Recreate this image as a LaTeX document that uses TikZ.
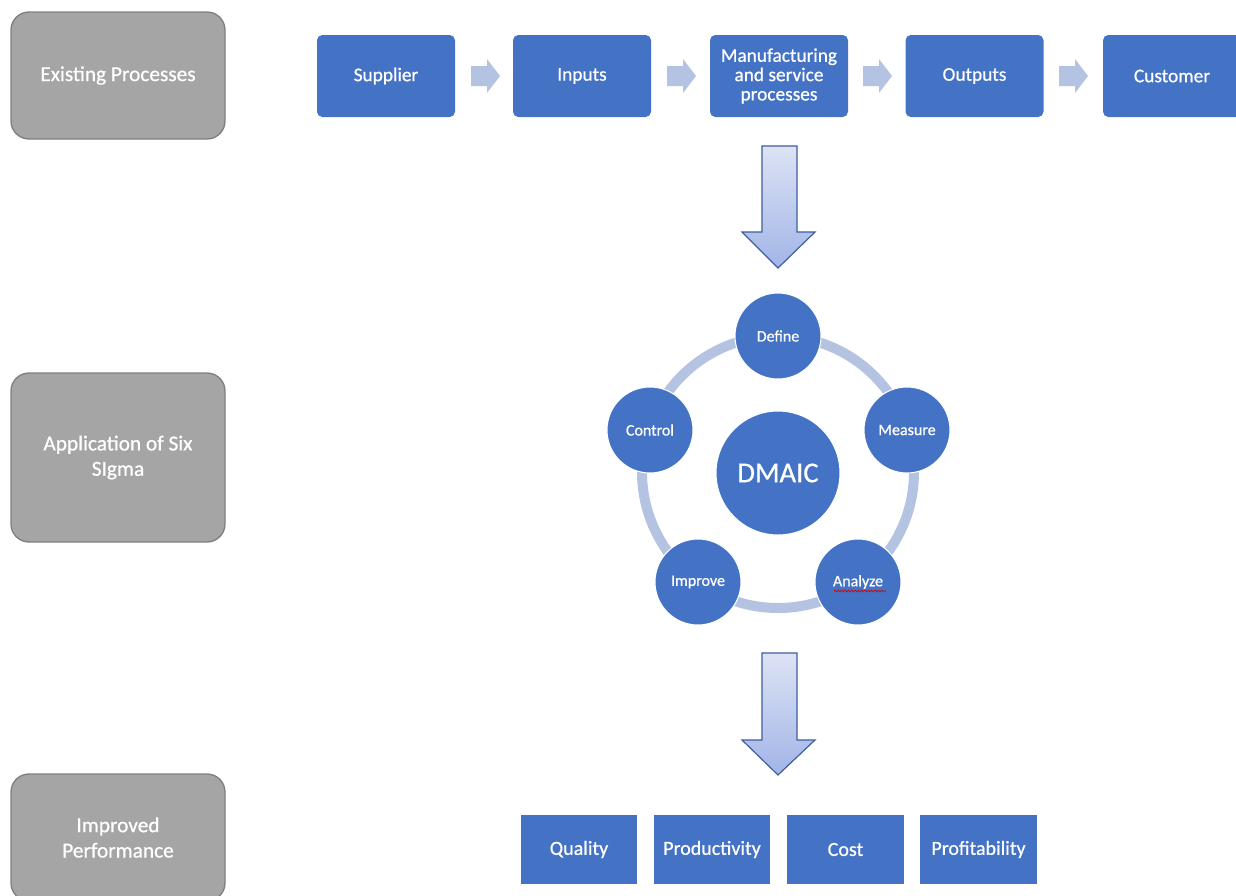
\documentclass[tikz,border=0pt]{standalone}
\usepackage{fontspec}
\setmainfont{Carlito}[FakeBold=0.7]
\usetikzlibrary{decorations.pathmorphing}
\definecolor{sblue}{HTML}{4472C4}
\definecolor{sgray}{HTML}{A5A5A5}
\definecolor{sgrayb}{HTML}{7F7F7F}
\definecolor{light}{HTML}{B4C3E1}
\definecolor{arrtop}{HTML}{DDE3F4}
\definecolor{arrbot}{HTML}{A2B5E8}
\definecolor{arrline}{HTML}{3E5E9C}
\tikzset{
  stage/.style={draw=sgrayb, line width=1pt, fill=sgray, rounded corners=13.5pt, minimum width=160.5pt, text=white, align=center, font=\fontsize{16}{19}\selectfont},
  pbox/.style={fill=sblue, rounded corners=4pt, minimum width=103.5pt, minimum height=61.5pt, text=white, align=center, font=\fontsize{14.5}{16.5}\selectfont},
  rbox/.style={fill=sblue, draw=white, line width=0.6pt, minimum width=88pt, minimum height=52pt, text=white, font=\fontsize{15}{18}\selectfont},
  phase/.style={circle, fill=sblue, draw=white, line width=0.8pt, minimum size=64.5pt, inner sep=0pt, text=white, font=\fontsize{12}{14}\selectfont},
  chev/.style={fill=light},
  bigarrow/.style={draw=arrline, line width=0.9pt, top color=arrtop, bottom color=arrbot},
  ring/.style={draw=light, line width=7.5pt}
}
\begin{document}
\begin{tikzpicture}[x=0.75pt, y=0.75pt]
\useasboundingbox (0,0) rectangle (1236,-896);
\begin{scope}
\clip (0,0) rectangle (1236,-896);
% stage labels
\node[stage, minimum height=95.25pt] (s1) at (118,-75.5) {Existing Processes};
\node[stage, minimum height=126.75pt] (s2) at (118,-457.5) {Application of Six\\SIgma};
\node[stage, minimum height=95.25pt] (s3) at (118,-837.5) {Improved\\Performance};
% process chain
\node[pbox] (sup) at (386,-76) {Supplier};
\node[pbox] (inp) at (582,-76) {Inputs};
\node[pbox] (man) at (779,-76) {Manufacturing\\[-2pt]and service\\[-2pt]processes};
\node[pbox] (out) at (974.5,-76) {Outputs};
\node[pbox] (cus) at (1172,-76) {Customer};
\foreach \cx in {485.5,681.5,877.5,1073.5}{
  \fill[chev] (\cx-14.5,-66) -- (\cx+1.5,-66) -- (\cx+1.5,-59) -- (\cx+14.5,-76) -- (\cx+1.5,-93) -- (\cx+1.5,-86) -- (\cx-14.5,-86) -- cycle;
}
% big arrow 1
\path[bigarrow] (762,-146) -- (797,-146) -- (797,-232) -- (815,-232) -- (778,-268) -- (742,-232) -- (762,-232) -- cycle;
% DMAIC cycle
\draw[ring] (778,-472) circle[radius=102pt];
\node[circle, fill=sblue, draw=white, line width=0.8pt, minimum size=93pt, inner sep=0pt, text=white, font=\fontsize{21.5}{25}\selectfont] (dmaic) at (778,-473) {DMAIC};
\node[phase] (def) at (778,-336) {Define};
\node[phase] (mea) at (907,-430) {Measure};
\node[phase] (ana) at (858,-582) {Analyze};
\node[phase] (imp) at (698,-582) {Improve};
\node[phase] (con) at (650,-430) {Control};
\draw[red!85!black, line width=0.5pt, decoration={snake, amplitude=0.7pt, segment length=2.5pt}, decorate] (834,-591) -- (886,-591);
% big arrow 2
\path[bigarrow] (762,-653) -- (797,-653) -- (797,-740) -- (815,-740) -- (778,-775) -- (742,-740) -- (762,-740) -- cycle;
% results
\node[rbox] (qua) at (579,-849.5) {Quality};
\node[rbox] (pro) at (712,-849.5) {Productivity};
\node[rbox] (cos) at (845.5,-849.5) {Cost};
\node[rbox] (prf) at (978.5,-849.5) {Profitability};
\end{scope}
\end{tikzpicture}
\end{document}
